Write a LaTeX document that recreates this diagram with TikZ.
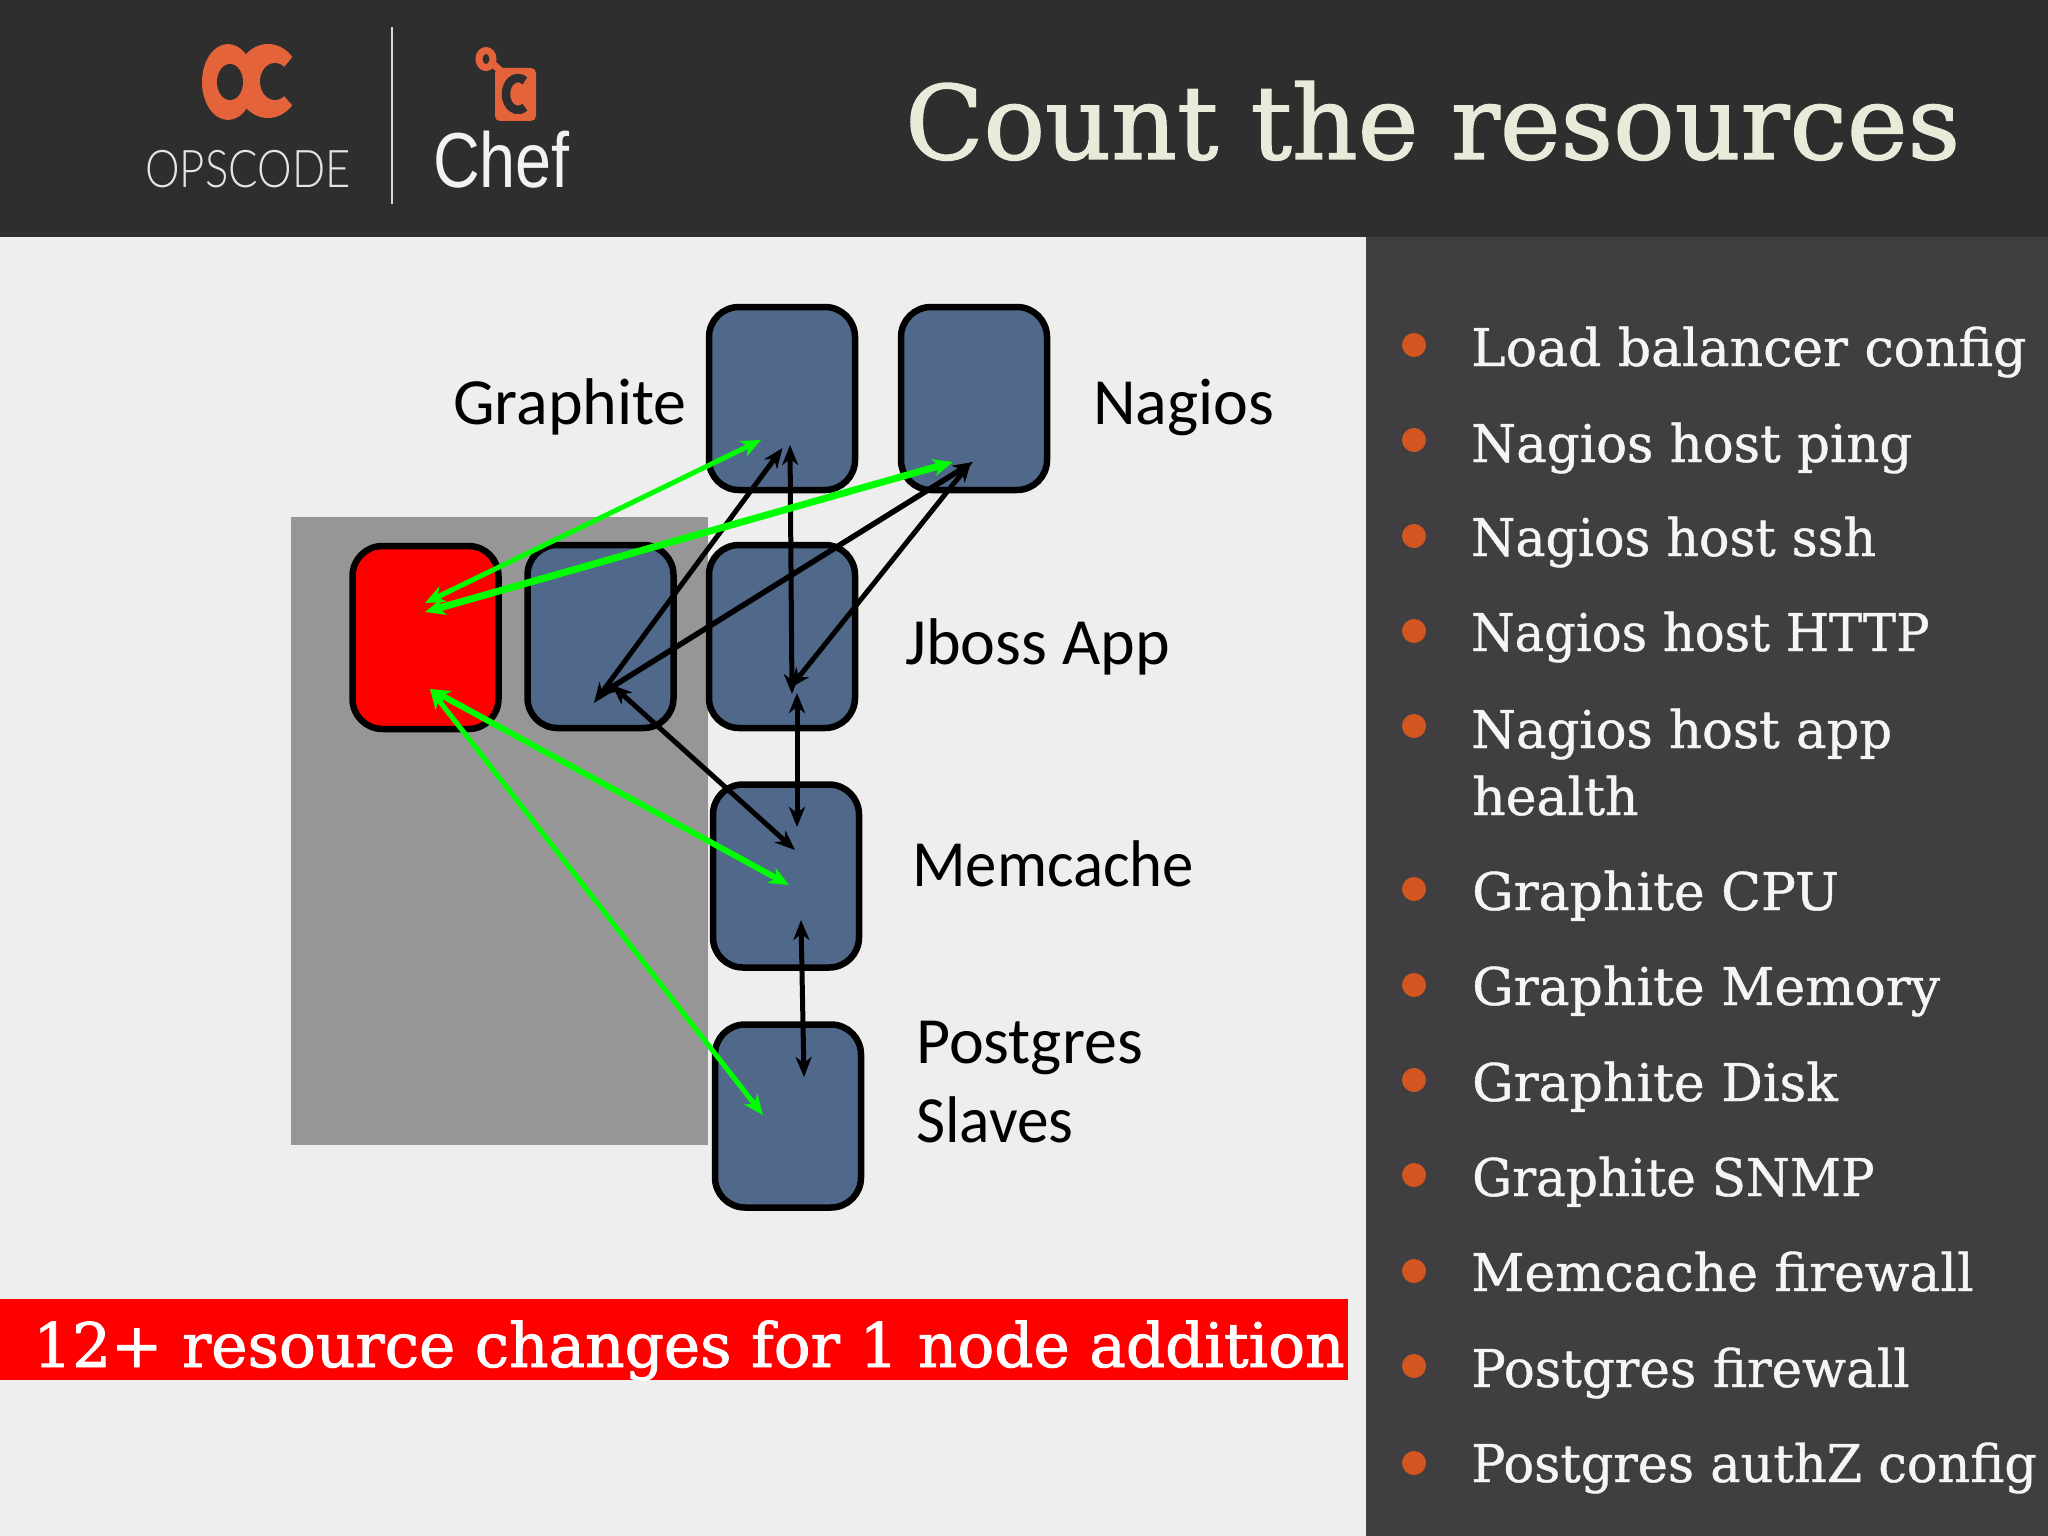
\documentclass[tikz,border=0pt]{standalone}
\usepackage{fontspec}
\usepackage{tikz}
\usetikzlibrary{arrows.meta}
\setmainfont[FakeBold=0.8]{DejaVu Serif}
\newfontfamily\titlefont[FakeBold=1.4]{DejaVu Serif}
\newfontfamily\labelfont{Carlito}
\newfontfamily\logofont{Liberation Sans}
\newfontfamily\thinfont{Lato Light}
\definecolor{headerbg}{HTML}{2E2E2E}
\definecolor{panelbg}{HTML}{403E40}
\definecolor{slidebg}{HTML}{EFEEEE}
\definecolor{greybg}{HTML}{969696}
\definecolor{boxblue}{HTML}{50688A}
\definecolor{chieforange}{HTML}{E5633A}
\definecolor{bulletorange}{HTML}{D2561F}
\definecolor{cream}{HTML}{E8EBDA}
\definecolor{brightgreen}{HTML}{00FF00}
\tikzset{
  resbox/.style={draw=black,line width=6.5pt,rounded corners=30pt,fill=boxblue,minimum width=146pt,minimum height=183pt,inner sep=0pt},
  nodelabel/.style={anchor=base west,inner sep=0pt,text=black,font=\labelfont\fontsize{66}{66}\selectfont},
  itemtext/.style={anchor=base west,inner sep=0pt,text=white!96!black,font=\fontsize{52}{52}\selectfont},
  itemdot/.style={circle,fill=bulletorange,minimum size=24pt,inner sep=0pt},
  blackarrow/.style={line width=5pt,black,<->,>={Stealth[length=20pt,width=16pt,inset=6pt]}},
  greenarrow/.style={line width=6pt,brightgreen,<->,>={Stealth[length=20pt,width=17pt,inset=6pt]}}
}
\begin{document}
\begin{tikzpicture}[x=1pt,y=-1pt]
\useasboundingbox (0,0) rectangle (2048,1536);
% backgrounds
\fill[slidebg] (0,0) rectangle (2048,1536);
\fill[headerbg] (0,0) rectangle (2048,237);
\fill[panelbg] (1366,237) rectangle (2048,1536);
\fill[greybg] (291,517) rectangle (708,1145);
% logos
\fill[chieforange] (228,82) ellipse (26 and 38);
\fill[chieforange] (268,81) ellipse (32 and 37);
\fill[headerbg] (230,82) ellipse (13 and 18);
\fill[headerbg] (275,81.5) ellipse (15 and 18.5);
\fill[headerbg] (272,82) -- (300,48) -- (310,48) -- (310,114) -- (300,114) -- cycle;
\draw[white!85!black,line width=1.5pt] (392,27) -- (392,204);
\draw[chieforange,line width=7pt] (486,59) ellipse (7 and 8.5);
\draw[chieforange,line width=7pt] (492,63) -- (503,73);
\fill[chieforange,rounded corners=5pt] (495,68) rectangle (536,121);
\draw[headerbg,line width=8.5pt] (518,94) ++(55:12 and 16) arc (55:305:12 and 16);
\node[anchor=base west,inner sep=0pt,text=white!90!black,font=\fontsize{52}{52}\selectfont\thinfont] (opscode) at (145,187) {\scalebox{.84}[1]{OPSCODE}};
\node[anchor=base west,inner sep=0pt,text=white!95!black,font=\fontsize{78}{78}\selectfont\logofont] (chef) at (433,187) {\scalebox{.83}[1]{Chef}};
% title
\node[anchor=base west,inner sep=0pt,text=cream,font=\fontsize{102.4}{102.4}\selectfont\titlefont] (title) at (905,159) {Count the resources};
% servers
\node[resbox] (graphite) at (782,398.5) {};
\node[resbox] (nagios) at (974,398.5) {};
\node[resbox,fill=red] (newapp) at (425.5,637.5) {};
\node[resbox] (app) at (600.5,636.5) {};
\node[resbox] (jboss) at (782,636.5) {};
\node[resbox] (memcache) at (786,876) {};
\node[resbox] (postgres) at (788,1116) {};
% labels
\node[nodelabel] (graphitelabel) at (453,424) {Graphite};
\node[nodelabel] (nagioslabel) at (1093,424) {Nagios};
\node[nodelabel] (jbosslabel) at (905,664) {Jboss App};
\node[nodelabel] (memcachelabel) at (912,886) {\scalebox{.95}[1]{Memcache}};
\node[nodelabel] (postgreslabel) at (916,1063) {Postgres};
\node[nodelabel] (slaveslabel) at (916,1142) {\scalebox{.96}[1]{Slaves}};
% arrow ends
\coordinate (graphiteA) at (761,440);
\coordinate (graphiteB) at (782.5,448);
\coordinate (graphiteC) at (790,445);
\coordinate (nagiosA) at (953,462);
\coordinate (nagiosB) at (973,462);
\coordinate (nagiosC) at (971,462);
\coordinate (newappA) at (425,603);
\coordinate (newappB) at (425,612);
\coordinate (newappC) at (430,689);
\coordinate (appA) at (594,703);
\coordinate (appB) at (599,695);
\coordinate (appC) at (612,685);
\coordinate (jbossA) at (792,694);
\coordinate (jbossB) at (790,688);
\coordinate (jbossC) at (797,693);
\coordinate (memcacheA) at (797,827);
\coordinate (memcacheB) at (795,850);
\coordinate (memcacheC) at (789,885);
\coordinate (memcacheD) at (801,920);
\coordinate (postgresA) at (804,1077);
\coordinate (postgresB) at (763,1115);
% connections
\draw[blackarrow] (appA) -- (graphiteB);
\draw[blackarrow] (jbossA) -- (graphiteC);
\draw[blackarrow,line width=5.5pt] (appB) -- (nagiosB);
\draw[blackarrow] (jbossB) -- (nagiosC);
\draw[blackarrow] (jbossC) -- (memcacheA);
\draw[blackarrow] (appC) -- (memcacheB);
\draw[blackarrow] (memcacheD) -- (postgresA);
\draw[greenarrow,line width=5pt] (newappA) -- (graphiteA);
\draw[greenarrow,line width=7pt] (newappB) -- (nagiosA);
\draw[greenarrow] (newappC) -- (memcacheC);
\draw[greenarrow,line width=5pt] (newappC) -- (postgresB);
% banner
\fill[red] (0,1299) rectangle (1348,1380);
\node[anchor=base west,inner sep=0pt,text=white,font=\fontsize{61.3}{61.3}\selectfont\titlefont] (banner) at (33,1367) {12+ resource changes for 1 node addition};
% list
\node[itemdot] (dotA) at (1414,345) {};
\node[itemdot] (dotB) at (1414,440) {};
\node[itemdot] (dotC) at (1414,536) {};
\node[itemdot] (dotD) at (1414,631) {};
\node[itemdot] (dotE) at (1414,726) {};
\node[itemdot] (dotF) at (1414,889) {};
\node[itemdot] (dotG) at (1414,985) {};
\node[itemdot] (dotH) at (1414,1080) {};
\node[itemdot] (dotI) at (1414,1175) {};
\node[itemdot] (dotJ) at (1414,1271) {};
\node[itemdot] (dotK) at (1414,1366) {};
\node[itemdot] (dotL) at (1414,1463) {};
\node[itemtext] (itemA) at (1471,366) {Load balancer config};
\node[itemtext] (itemB) at (1471,462) {\scalebox{.988}[1]{Nagios host ping}};
\node[itemtext] (itemC) at (1471,556) {\scalebox{.972}[1]{Nagios host ssh}};
\node[itemtext] (itemD) at (1471,651) {\scalebox{.954}[1]{Nagios host HTTP}};
\node[itemtext] (itemE) at (1471,748) {\scalebox{.985}[1]{Nagios host app}};
\node[itemtext] (itemF) at (1472,815) {health};
\node[itemtext] (itemG) at (1472,910) {Graphite CPU};
\node[itemtext] (itemH) at (1472,1005) {Graphite Memory};
\node[itemtext] (itemI) at (1472,1101) {Graphite Disk};
\node[itemtext] (itemJ) at (1472,1196) {\scalebox{.962}[1]{Graphite SNMP}};
\node[itemtext] (itemK) at (1471,1291) {Memcache firewall};
\node[itemtext] (itemL) at (1471,1387) {\scalebox{.99}[1]{Postgres firewall}};
\node[itemtext] (itemM) at (1471,1482) {\scalebox{.98}[1]{Postgres authZ config}};
\end{tikzpicture}
\end{document}
